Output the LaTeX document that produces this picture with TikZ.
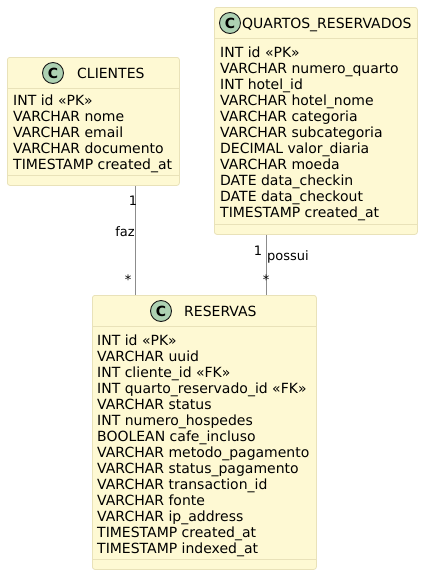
\documentclass[tikz,border=0pt]{standalone}
\usepackage{fontspec}
\setmainfont{DejaVu Sans}
\usetikzlibrary{positioning}
\definecolor{entfill}{HTML}{FEF9D3}
\definecolor{entline}{HTML}{E9E2B9}
\definecolor{circfill}{HTML}{ADD1B2}
\definecolor{circline}{HTML}{181818}
\definecolor{linkgray}{HTML}{8C8C8C}

\begin{document}
\begin{tikzpicture}[x=1pt, y=-1pt,
  entity/.style={draw=entline, fill=entfill, rounded corners=2.5pt, line width=0.8pt, inner sep=0pt, anchor=north west},
  sepline/.style={draw=entline, line width=0.8pt},
  badge/.style={circle, draw=circline, fill=circfill, line width=0.9pt, minimum size=21pt, inner sep=0pt, font=\fontsize{14}{14}\selectfont\bfseries},
  title/.style={anchor=base west, inner sep=0pt, font=\fontsize{14}{16}\selectfont},
  attr/.style={anchor=base west, inner sep=0pt, font=\fontsize{14}{16}\selectfont},
  link/.style={draw=linkgray, line width=0.8pt},
  lbl/.style={anchor=base, inner sep=0pt, font=\fontsize{13}{15}\selectfont}]
  \useasboundingbox (0,0) rectangle (423,576);

  % entity boxes
  \node[entity, minimum width=172pt, minimum height=128pt] (clientes) at (7,57) {};
  \node[entity, minimum width=203pt, minimum height=227pt] (quartos) at (214,7) {};
  \node[entity, minimum width=224pt, minimum height=274pt] (reservas) at (92,295) {};

  % header and footer rules
  \foreach \e in {clientes,quartos,reservas} {
    \draw[sepline] ([yshift=-31pt]\e.north west) -- ([yshift=-31pt]\e.north east);
    \draw[sepline] ([yshift=10pt]\e.south west) -- ([yshift=10pt]\e.south east);
  }

  % headers
  \node[badge] (clientes-c) at (53,73) {C};
  \node[title] (clientes-t) at (77,78) {CLIENTES};
  \node[badge] (quartos-c) at (230,23) {C};
  \node[title] (quartos-t) at (242,28) {QUARTOS\_RESERVADOS};
  \node[badge] (reservas-c) at (161,311) {C};
  \node[title] (reservas-t) at (184,316) {RESERVAS};

  % attributes
  \foreach \t [count=\i] in {INT id «PK», VARCHAR nome, VARCHAR email,
      VARCHAR documento, TIMESTAMP created\_at}
    \node[attr] (clientes-a\i) at (13,{89+16*\i}) {\t};
  \foreach \t [count=\i] in {INT id «PK», VARCHAR numero\_quarto, INT hotel\_id,
      VARCHAR hotel\_nome, VARCHAR categoria, VARCHAR subcategoria,
      DECIMAL valor\_diaria, VARCHAR moeda, DATE data\_checkin,
      DATE data\_checkout, TIMESTAMP created\_at}
    \node[attr] (quartos-a\i) at (220,{41+16*\i}) {\t};
  \foreach \t [count=\i] in {INT id «PK», VARCHAR uuid, INT cliente\_id «FK»,
      INT quarto\_reservado\_id «FK», VARCHAR status, INT numero\_hospedes,
      BOOLEAN cafe\_incluso, VARCHAR metodo\_pagamento,
      VARCHAR status\_pagamento, VARCHAR transaction\_id, VARCHAR fonte,
      VARCHAR ip\_address, TIMESTAMP created\_at, TIMESTAMP indexed\_at}
    \node[attr] (reservas-a\i) at (97,{329+16*\i}) {\t};

  % relations
  \coordinate (fazx) at (135,0);
  \coordinate (possuix) at (266,0);
  \draw[link] (clientes.south -| fazx) -- (reservas.north -| fazx);
  \draw[link] (quartos.south -| possuix) -- (reservas.north -| possuix);
  \node[lbl] (faz-one) at (133,205) {1};
  \node[lbl] (faz-name) at (125,236) {faz};
  \node[lbl] (faz-many) at (128,284) {*};
  \node[lbl] (possui-one) at (258,255) {1};
  \node[lbl, anchor=base west] (possui-name) at (267,260) {possui};
  \node[lbl] (possui-many) at (266,284) {*};
\end{tikzpicture}
\end{document}
